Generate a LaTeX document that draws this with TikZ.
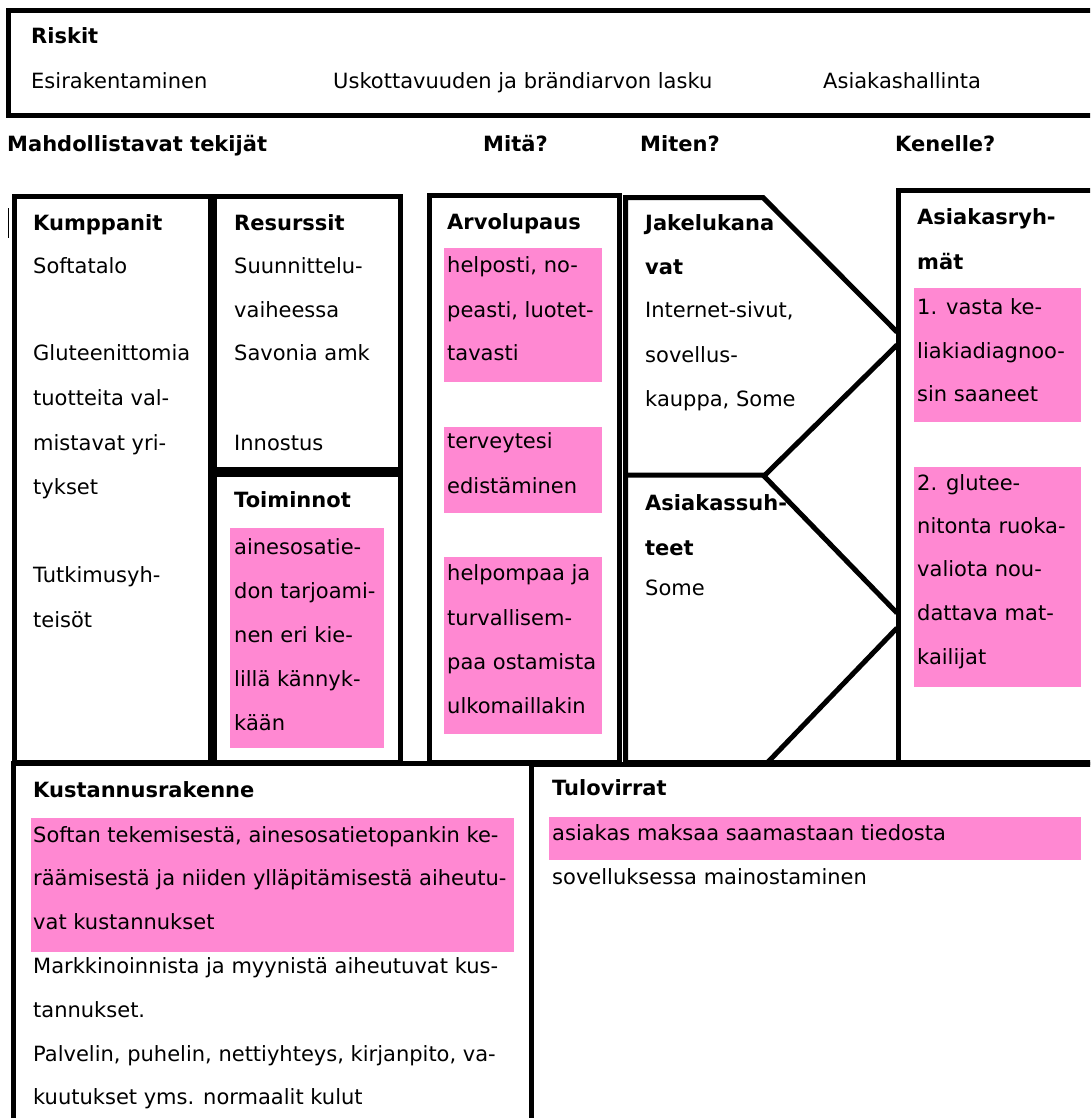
\documentclass[tikz,border=0pt]{standalone}
\usepackage{fontspec}
\setmainfont{DejaVu Sans}
\definecolor{pinkc}{RGB}{255,136,210}
\begin{document}
\begin{tikzpicture}[x=1pt,y=-1pt,
  frame/.style={draw=black,line width=5pt,line join=miter},
  pinkbox/.style={fill=pinkc,draw=none},
  txt/.style={anchor=base west,inner sep=0pt,font=\fontsize{21}{25}\selectfont},
  btxt/.style={anchor=base west,inner sep=0pt,font=\fontsize{21}{25}\selectfont\bfseries}]
\clip (0,0) rectangle (1090,1118);
\fill[white] (0,0) rectangle (1090,1118);
% pink highlight areas
\fill[pinkbox] (444,248) rectangle (602,382);
\fill[pinkbox] (444,427) rectangle (602,513);
\fill[pinkbox] (444,557) rectangle (602,734);
\fill[pinkbox] (230,528) rectangle (384,748);
\fill[pinkbox] (914,288) rectangle (1081,422);
\fill[pinkbox] (914,467) rectangle (1081,687);
\fill[pinkbox] (31,818) rectangle (514,952);
\fill[pinkbox] (549,817) rectangle (1081,860);
% top texts
\node[btxt] (riskit) at (31,44) {Riskit};
\node[txt] (r1) at (31,89) {Esirakentaminen};
\node[txt] (r2) at (333,89) {Uskottavuuden ja brändiarvon lasku};
\node[txt] (r3) at (823,89) {Asiakashallinta};
\node[btxt] (h1) at (7,152) {Mahdollistavat tekijät};
\node[btxt] (h2) at (483,152) {Mitä?};
\node[btxt] (h3) at (640,152) {Miten?};
\node[btxt] (h4) at (895,152) {Kenelle?};
% Kumppanit
\node[btxt] (k0) at (33,230) {Kumppanit};
\node[txt] (k1) at (33,273) {Softatalo};
\node[txt] (k2) at (33,360) {Gluteenittomia};
\node[txt] (k3) at (33,405) {tuotteita val-};
\node[txt] (k4) at (33,450) {mistavat yri-};
\node[txt] (k5) at (33,494) {tykset};
\node[txt] (k6) at (33,582) {Tutkimusyh-};
\node[txt] (k7) at (33,627) {teisöt};
% Resurssit
\node[btxt] (re0) at (234,230) {Resurssit};
\node[txt] (re1) at (234,273) {Suunnittelu-};
\node[txt] (re2) at (234,317) {vaiheessa};
\node[txt] (re3) at (234,360) {Savonia amk};
\node[txt] (re4) at (234,450) {Innostus};
% Toiminnot
\node[btxt] (t0) at (234,507) {Toiminnot};
\node[txt] (t1) at (234,554) {ainesosatie-};
\node[txt] (t2) at (234,598) {don tarjoami-};
\node[txt] (t3) at (234,642) {nen eri kie-};
\node[txt] (t4) at (234,686) {lillä kännyk-};
\node[txt] (t5) at (234,730) {kään};
% Arvolupaus
\node[btxt] (a0) at (447,229) {Arvolupaus};
\node[txt] (a1) at (447,272) {helposti, no-};
\node[txt] (a2) at (447,317) {peasti, luotet-};
\node[txt] (a3) at (447,360) {tavasti};
\node[txt] (a4) at (447,448) {terveytesi};
\node[txt] (a5) at (447,493) {edistäminen};
\node[txt] (a6) at (447,580) {helpompaa ja};
\node[txt] (a7) at (447,625) {turvallisem-};
\node[txt] (a8) at (447,669) {paa ostamista};
\node[txt] (a9) at (447,713) {ulkomaillakin};
% Jakelukanavat
\node[btxt] (j0) at (645,230) {Jakelukana};
\node[btxt] (j1) at (645,274) {vat};
\node[txt] (j2) at (645,317) {Internet-sivut,};
\node[txt] (j3) at (645,362) {sovellus-};
\node[txt] (j4) at (645,406) {kauppa, Some};
% Asiakassuhteet
\node[btxt] (s0) at (645,510) {Asiakassuh-};
\node[btxt] (s1) at (645,555) {teet};
\node[txt] (s2) at (645,595) {Some};
% Asiakasryhmat
\node[btxt] (g0) at (917,224) {Asiakasryh-};
\node[btxt] (g1) at (917,269) {mät};
\node[txt] (g2) at (917,314) {1. vasta ke-};
\node[txt] (g3) at (917,358) {liakiadiagnoo-};
\node[txt] (g4) at (917,401) {sin saaneet};
\node[txt] (g5) at (917,490) {2. glutee-};
\node[txt] (g6) at (917,533) {nitonta ruoka-};
\node[txt] (g7) at (917,576) {valiota nou-};
\node[txt] (g8) at (917,620) {dattava mat-};
\node[txt] (g9) at (917,664) {kailijat};
% Kustannusrakenne
\node[btxt] (c0) at (33,797) {Kustannusrakenne};
\node[txt] (c1) at (33,842) {Softan tekemisestä, ainesosatietopankin ke-};
\node[txt] (c2) at (33,885) {räämisestä ja niiden ylläpitämisestä aiheutu-};
\node[txt] (c3) at (33,929) {vat kustannukset};
\node[txt] (c4) at (33,973) {Markkinoinnista ja myynistä aiheutuvat kus-};
\node[txt] (c5) at (33,1017) {tannukset.};
\node[txt] (c6) at (33,1061) {Palvelin, puhelin, nettiyhteys, kirjanpito, va-};
\node[txt] (c7) at (33,1104) {kuutukset yms. normaalit kulut};
% Tulovirrat
\node[btxt] (v0) at (552,795) {Tulovirrat};
\node[txt] (v1) at (552,840) {asiakas maksaa saamastaan tiedosta};
\node[txt] (v2) at (552,884) {sovelluksessa mainostaminen};
% frames
\draw[frame] (8,10.5) rectangle (1110,115.5);
\draw[line width=1.5pt] (8.5,208) -- (8.5,238);
\draw[frame] (14.5,196.5) rectangle (210.5,762);
\draw[frame] (214.5,196.5) rectangle (400.5,469.5);
\draw[frame] (214.5,474.5) rectangle (400.5,762);
\draw[frame] (429,195.5) rectangle (619.5,762);
\draw[frame] (625.5,762) -- (625.5,197.5) -- (763,197.5) -- (897,332);
\draw[frame] (897,345) -- (765,475) -- (625.5,475);
\draw[frame] (763,475) -- (897,613);
\draw[frame] (897,628) -- (768,762);
\draw[frame] (625.5,762) -- (898.5,762);
\draw[frame] (898.5,190.5) rectangle (1110,762);
\draw[frame] (13,763.5) rectangle (531.5,1130);
\draw[frame] (531.5,764.5) rectangle (1110,1130);
\end{tikzpicture}
\end{document}
